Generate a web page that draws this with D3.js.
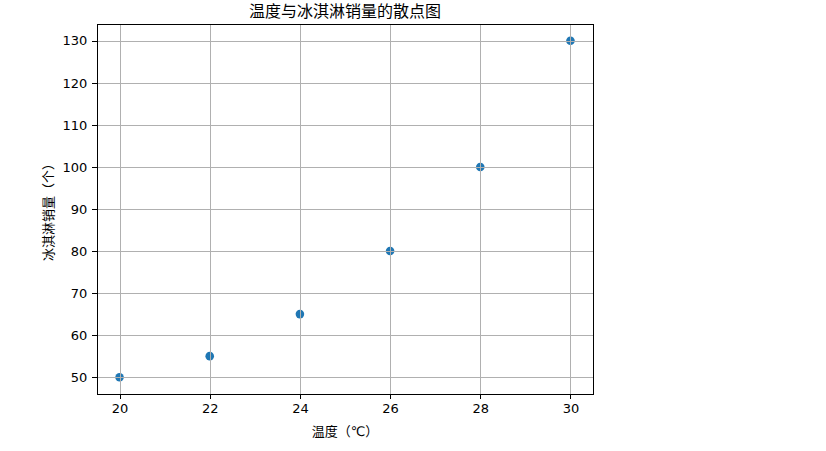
<!DOCTYPE html>
<html><head><meta charset="utf-8">
<script src="https://cdn.jsdelivr.net/npm/d3@7"></script>
<style>body{margin:0;background:#fff}svg{display:block}text{font-family:"DejaVu Sans","Noto Sans CJK SC",sans-serif;fill:#000}</style>
</head><body>
<script>
const temperatures = [20, 22, 24, 26, 28, 30];
const sales = [50, 55, 65, 80, 100, 130];
const xTicks = [20, 22, 24, 26, 28, 30];
const yTicks = [50, 60, 70, 80, 90, 100, 110, 120, 130];
const titleText = "温度与冰淇淋销量的散点图";
const xLabel = "温度（℃）";
const yLabel = "冰淇淋销量（个）";

const W = 826, H = 451;
const m = {left: 97, right: 233, top: 24, bottom: 57};
const svg = d3.select("body").append("svg").attr("width", W).attr("height", H);
const x = d3.scaleLinear().domain([19.5, 30.5]).range([m.left, W - m.right]);
const y = d3.scaleLinear().domain([46, 134]).range([H - m.bottom, m.top]);
const px = v => Math.round(v) + 0.5;

const g = svg.append("g");
// points (below grid, as in matplotlib)
g.selectAll("circle").data(temperatures).enter().append("circle")
  .attr("cx", d => x(d)).attr("cy", (d, i) => y(sales[i])).attr("r", 4.3)
  .attr("fill", "#1f77b4");

// grid
g.selectAll(".gx").data(xTicks).enter().append("line")
  .attr("x1", d => px(x(d))).attr("x2", d => px(x(d))).attr("y1", y(46)).attr("y2", y(134))
  .attr("stroke", "#b0b0b0").attr("stroke-width", 1).attr("shape-rendering", "crispEdges");
g.selectAll(".gy").data(yTicks).enter().append("line")
  .attr("y1", d => px(y(d))).attr("y2", d => px(y(d))).attr("x1", x(19.5)).attr("x2", x(30.5))
  .attr("stroke", "#b0b0b0").attr("stroke-width", 1).attr("shape-rendering", "crispEdges");

// axes
const xa = svg.append("g").attr("transform", `translate(0,${H - m.bottom})`)
  .call(d3.axisBottom(x).tickValues(xTicks).tickSize(4.9).tickPadding(4.9).tickFormat(d3.format("d")));
const ya = svg.append("g").attr("transform", `translate(${m.left},0)`)
  .call(d3.axisLeft(y).tickValues(yTicks).tickSize(4.9).tickPadding(4.9).tickFormat(d3.format("d")));
[xa, ya].forEach(a => {
  a.select(".domain").remove();
  a.selectAll("line").attr("stroke", "#000").attr("stroke-width", 1).attr("shape-rendering", "crispEdges");
  a.selectAll("text").attr("font-size", "13px").attr("font-family", "DejaVu Sans");
});
// frame
svg.append("rect").attr("x", px(x(19.5))).attr("y", px(y(134))).attr("width", Math.round(x(30.5) - x(19.5))).attr("height", Math.round(y(46) - y(134)))
  .attr("fill", "none").attr("stroke", "#000").attr("stroke-width", 1).attr("shape-rendering", "crispEdges");

svg.append("text").attr("x", (x(19.5) + x(30.5)) / 2).attr("y", 17).attr("text-anchor", "middle")
  .attr("font-size", "16px").text(titleText);
svg.append("text").attr("x", (x(19.5) + x(30.5)) / 2).attr("y", 436).attr("text-anchor", "middle")
  .attr("font-size", "13px").text(xLabel);
svg.append("text").attr("transform", `translate(53,${(y(46) + y(134)) / 2}) rotate(-90)`).attr("text-anchor", "middle")
  .attr("font-size", "13px").text(yLabel);
</script>
</body></html>
